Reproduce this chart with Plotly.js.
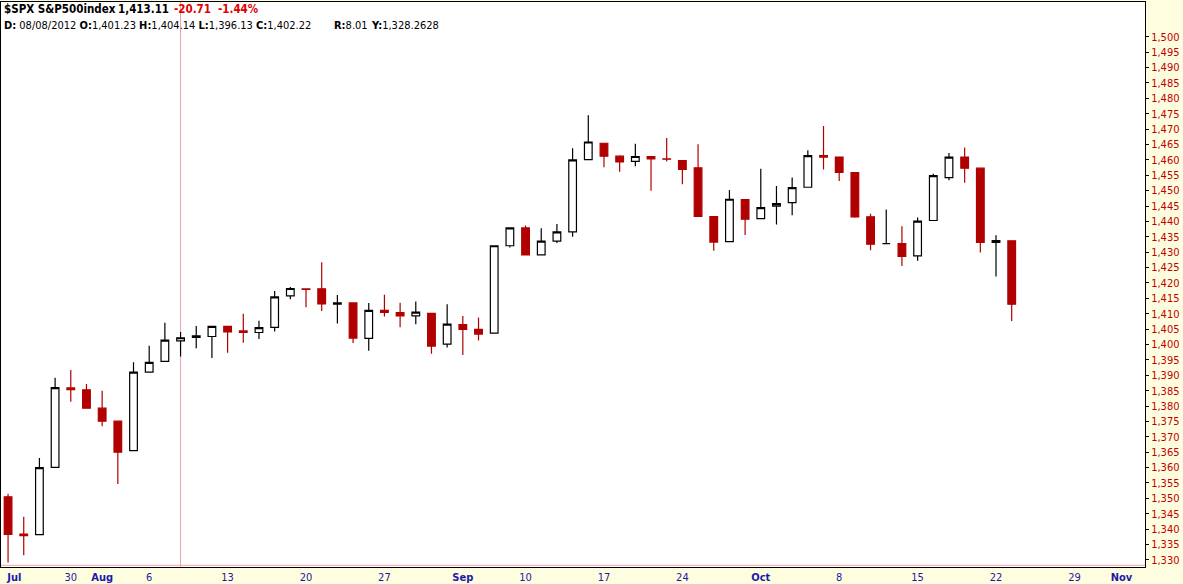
<!DOCTYPE html>
<html>
<head>
<meta charset="utf-8">
<script src="https://cdn.plot.ly/plotly-3.0.1.min.js"></script>
<style>
html,body{margin:0;padding:0;background:#fffde0;}
#chart{width:1183px;height:584px;}
</style>
</head>
<body>
<div id="chart"></div>
<script>
// ---- data ----
var dates = ['2012-07-24','2012-07-25','2012-07-26','2012-07-27','2012-07-30','2012-07-31',
 '2012-08-01','2012-08-02','2012-08-03','2012-08-06','2012-08-07','2012-08-08','2012-08-09','2012-08-10',
 '2012-08-13','2012-08-14','2012-08-15','2012-08-16','2012-08-17','2012-08-20','2012-08-21','2012-08-22',
 '2012-08-23','2012-08-24','2012-08-27','2012-08-28','2012-08-29','2012-08-30','2012-08-31',
 '2012-09-04','2012-09-05','2012-09-06','2012-09-07','2012-09-10','2012-09-11','2012-09-12','2012-09-13',
 '2012-09-14','2012-09-17','2012-09-18','2012-09-19','2012-09-20','2012-09-21','2012-09-24','2012-09-25',
 '2012-09-26','2012-09-27','2012-09-28','2012-10-01','2012-10-02','2012-10-03','2012-10-04','2012-10-05',
 '2012-10-08','2012-10-09','2012-10-10','2012-10-11','2012-10-12','2012-10-15','2012-10-16','2012-10-17',
 '2012-10-18','2012-10-19','2012-10-22','2012-10-23'];
var futureDates = ['2012-10-24','2012-10-25','2012-10-26','2012-10-29','2012-10-30','2012-10-31',
 '2012-11-01','2012-11-02'];
var open  = [1350.5,1338.4,1338.2,1360.1,1385.9,1385.3,1379.3,1375.1,1365.5,1391.0,1394.5,1401.2,1402.3,1402.6,
 1405.9,1404.4,1403.9,1405.6,1415.8,1417.9,1418.1,1413.1,1413.5,1402.0,1411.1,1410.4,1409.3,1410.1,1400.1,
 1406.5,1404.9,1403.7,1432.1,1437.9,1429.1,1433.6,1436.6,1460.1,1465.4,1461.2,1459.5,1461.1,1460.3,1459.8,1457.4,
 1441.6,1433.4,1447.1,1440.9,1445.0,1446.1,1451.1,1461.4,1460.9,1455.9,1441.5,1432.8,1432.8,1428.8,1440.3,1454.2,
 1460.9,1457.3,1433.2,1433.7];
var high  = [1351.5,1344.0,1363.1,1389.2,1391.7,1387.2,1385.0,1375.1,1394.2,1399.6,1407.1,1404.1,1406.0,1406.0,
 1405.9,1410.0,1407.7,1417.4,1418.7,1418.1,1426.7,1416.1,1413.5,1413.5,1416.2,1413.6,1414.0,1410.1,1413.1,
 1409.3,1408.8,1432.1,1437.9,1438.7,1437.8,1439.2,1463.8,1474.5,1465.6,1461.5,1465.2,1461.2,1467.1,1459.8,1465.1,
 1441.6,1450.2,1447.1,1457.1,1451.5,1454.3,1463.1,1471.0,1460.9,1455.9,1442.5,1443.9,1438.4,1441.3,1455.5,1462.2,
 1464.0,1457.3,1435.5,1433.7];
var low   = [1329.2,1331.5,1338.2,1360.1,1381.4,1379.2,1373.4,1354.7,1365.5,1391.0,1394.5,1396.1,1398.8,1395.6,
 1397.3,1400.6,1401.8,1404.2,1414.7,1412.1,1410.9,1406.8,1400.5,1398.0,1409.1,1405.6,1406.6,1397.0,1399.0,
 1396.6,1401.3,1403.7,1431.5,1429.0,1429.1,1433.0,1435.0,1460.1,1457.6,1456.1,1457.9,1450.0,1459.5,1452.1,1441.6,
 1430.5,1433.4,1435.6,1440.9,1439.0,1442.0,1451.1,1456.9,1453.1,1441.2,1430.6,1432.8,1425.5,1427.2,1440.3,1453.4,
 1452.6,1429.9,1422.1,1407.6];
var close = [1338.3,1337.9,1360.0,1386.0,1385.3,1379.3,1375.1,1365.0,1391.0,1394.2,1401.4,1402.2,1402.8,1405.9,
 1404.1,1403.9,1405.5,1415.5,1418.2,1418.1,1413.2,1413.5,1402.1,1411.1,1410.4,1409.3,1410.5,1399.5,1406.6,
 1404.9,1403.4,1432.1,1437.9,1429.1,1433.6,1436.6,1460.0,1465.8,1461.2,1459.3,1461.1,1460.3,1460.2,1456.9,1441.6,
 1433.3,1447.2,1440.7,1444.5,1445.8,1451.0,1461.4,1460.9,1455.9,1441.5,1432.6,1432.8,1428.6,1440.1,1454.9,1460.9,
 1457.3,1433.2,1433.8,1413.1];
var prevCloseFirst = 1350.5;
var tickDates = ['2012-07-24','2012-07-30','2012-08-01','2012-08-06','2012-08-13','2012-08-20','2012-08-27',
 '2012-09-04','2012-09-10','2012-09-17','2012-09-24','2012-10-01','2012-10-08','2012-10-15','2012-10-22',
 '2012-10-29','2012-11-01'];
var tickLabels = ['&nbsp;&nbsp;&nbsp;&nbsp;<b>Jul</b>','30','<b>Aug</b>','6','13','20','27','<b>Sep</b>','10','17','24','<b>Oct</b>',
 '8','15','22','29','<b>Nov</b>'];
var yTicks = [1330,1335,1340,1345,1350,1355,1360,1365,1370,1375,1380,1385,1390,1395,1400,1405,1410,1415,
 1420,1425,1430,1435,1440,1445,1450,1455,1460,1465,1470,1475,1480,1485,1490,1495,1500];
var crossDate = '2012-08-08';
var crossValue = 1328.2628;

// ---- styles ----
var RED = '#b00000';
var BLACK = '#000000';
var groups = {black:{x:[],o:[],h:[],l:[],c:[]}, red:{x:[],o:[],h:[],l:[],c:[]}};
for (var i = 0; i < dates.length; i++) {
  var pc = i === 0 ? prevCloseFirst : close[i-1];
  var g = close[i] < pc ? groups.red : groups.black;
  g.x.push(dates[i]); g.o.push(open[i]); g.h.push(high[i]); g.l.push(low[i]); g.c.push(close[i]);
}
function mk(g, col) {
  return {type:'candlestick', x:g.x, open:g.o, high:g.h, low:g.l, close:g.c,
    increasing:{line:{color:col, width:1.2}, fillcolor:'#ffffff'},
    decreasing:{line:{color:col, width:1.2}, fillcolor:col},
    whiskerwidth:0, hoverinfo:'skip', showlegend:false};
}
var traces = [mk(groups.black, BLACK), mk(groups.red, RED)];

var FONT = '"DejaVu Sans Condensed", "DejaVu Sans", Tahoma, sans-serif';
var W = 1144, H = 565;
function px(x){ return (x - 1) / W; }
function py(y){ return (567 - y) / H; }
function ann(x, y, text, size, color){
  return {xref:'paper', yref:'paper', x:px(x), y:py(y), xanchor:'left', yanchor:'middle',
    text:text, showarrow:false, font:{family:FONT, size:size, color:color}};
}
var annotations = [
  ann(2, 9, '<b>$SPX S&P500index</b>', 11.5, '#000000'),
  ann(116, 9, '<b>1,413.11</b>', 11.5, '#000000'),
  ann(172, 9, '<b>-20.71</b>', 11.5, '#e00000'),
  ann(216, 9, '<b>-1.44%</b>', 11.5, '#e00000'),
  ann(2, 25, '<b>D:</b> 08/08/2012 <b>O:</b>1,401.23 <b>H:</b>1,404.14 <b>L:</b>1,396.13 <b>C:</b>1,402.22', 11, '#000000'),
  ann(332, 25, '<b>R:</b>8.01', 11, '#000000'),
  ann(369, 25, '<b>Y:</b>1,328.2628', 11, '#000000')
];

var layout = {
  width:1183, height:584,
  margin:{l:1, r:38, t:2, b:17, pad:0},
  paper_bgcolor:'#fffde0', plot_bgcolor:'#ffffff',
  showlegend:false,
  xaxis:{type:'category', categoryorder:'array', categoryarray:dates.concat(futureDates),
    range:[-0.45, 72.5], rangeslider:{visible:false},
    tickmode:'array', tickvals:tickDates, ticktext:tickLabels, tickangle:0,
    tickfont:{family:FONT, size:11, color:'#1a1aa8'}, ticks:'', showgrid:false, zeroline:false,
    showline:true, linecolor:'#000000', linewidth:1, mirror:true, fixedrange:true},
  yaxis:{side:'right', range:[1327.7, 1511.3], tickmode:'array', tickvals:yTicks, tickformat:',d',
    tickfont:{family:FONT, size:11, color:'#c00000'}, ticks:'outside', ticklen:3, tickcolor:'#000000',
    showgrid:false, zeroline:false, showline:true, linecolor:'#000000', linewidth:1, mirror:true,
    fixedrange:true},
  shapes:[
    {type:'line', xref:'x', yref:'paper', x0:crossDate, x1:crossDate, y0:0, y1:1,
      line:{color:'#eea0a8', width:1}, layer:'below'},
    {type:'line', xref:'paper', yref:'y', x0:0, x1:1, y0:crossValue, y1:crossValue,
      line:{color:'#eea0a8', width:1}, layer:'below'}
  ],
  annotations:annotations
};
Plotly.newPlot('chart', traces, layout, {displayModeBar:false, staticPlot:true});
</script>
</body>
</html>
